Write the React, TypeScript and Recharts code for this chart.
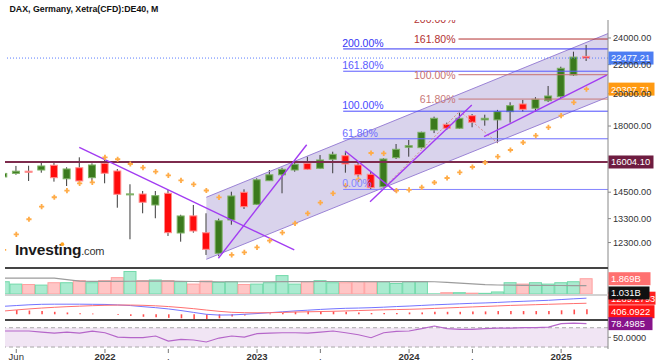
import React from "react";
import {
  ComposedChart,
  Bar,
  Line,
  Area,
  XAxis,
  YAxis,
  ReferenceLine,
  ReferenceDot,
  ReferenceArea,
} from "recharts";

// monthly candles, May 2021 .. Mar 2025
const months = [
  "2021-05", "2021-06", "2021-07", "2021-08", "2021-09", "2021-10", "2021-11", "2021-12",
  "2022-01", "2022-02", "2022-03", "2022-04", "2022-05", "2022-06", "2022-07", "2022-08", "2022-09", "2022-10", "2022-11", "2022-12",
  "2023-01", "2023-02", "2023-03", "2023-04", "2023-05", "2023-06", "2023-07", "2023-08", "2023-09", "2023-10", "2023-11", "2023-12",
  "2024-01", "2024-02", "2024-03", "2024-04", "2024-05", "2024-06", "2024-07", "2024-08", "2024-09", "2024-10", "2024-11", "2024-12",
  "2025-01", "2025-02", "2025-03",
];
const opens = [
  15240, 15420, 15530, 15590, 15835, 15150, 15707, 15204,
  15935, 15540, 14380, 14414, 13906, 14448, 12690, 13420, 12700, 11875, 13241, 14496,
  13937, 15055, 15349, 15590, 15935, 15677, 16147, 16337, 15848, 15375, 14760, 16231,
  16793, 16773, 17768, 18103, 17868, 18619, 18365, 18365, 18864, 19344, 19075, 19553,
  19812, 21266, 22600,
];
const highs = [
  15570, 15800, 15810, 15968, 15950, 15730, 16250, 15935,
  16200, 15640, 14880, 14557, 14557, 14606, 13470, 13906, 13534, 13300, 14522, 14637,
  15173, 15590, 15707, 16020, 16284, 16373, 16551, 16519, 15950, 15504, 16200, 16973,
  17196, 17670, 18560, 18200, 18801, 18720, 18680, 18975, 19452, 19604, 19780, 20516,
  21850, 22949, 23457,
];
const lows = [
  14820, 15350, 15041, 15454, 15008, 14796, 14880, 14957,
  14928, 13783, 12432, 13534, 13316, 12567, 12334, 12703, 11811, 11760, 13038, 13726,
  13906, 15041, 14448, 15504, 15590, 15640, 15425, 15454, 15254, 14606, 14720, 16161,
  16284, 16720, 17590, 17768, 17830, 17926, 18020, 17030, 18200, 18864, 18850, 19470,
  19720, 21200, 22263,
];
const closes = [
  15418, 15530, 15475, 15797, 15204, 15643, 15041, 15848,
  15425, 14400, 14420, 14030, 14335, 12703, 13416, 12773, 12031, 13210, 14321, 13829,
  15100, 15349, 15626, 15886, 15626, 16110, 16411, 15900, 15349, 14715, 16161, 16682,
  16880, 17635, 18461, 17868, 18461, 18221, 18461, 18864, 19238, 19010, 19644, 19857,
  21737, 22550, 22477.21,
];
// parabolic SAR
const sar = [
  12005, 12636, 13272, 13829, 14261, 14570, 14928, 14976,
  16250, 16147, 15900, 15708, 15504, 15324, 15074, 14879, 14580, 14252, 11811, 11914,
  12110, 12375, 12703, 13099, 13534, 14011, 14448, 14810, 15122, 16481, 16466, 14570,
  14606, 14734, 14966, 15189, 15466, 15744, 15977, 16284, 16643, 17057, 17441, 17926,
  18619, 19452, 20307.71,
];
// volume, billions
const volume = [
  1.5, 1.21, 1.16, 1.09, 1.38, 1.38, 1.63, 1.38,
  1.63, 2.0, 2.75, 1.63, 1.71, 1.63, 1.5, 1.21, 1.59, 1.41, 1.5, 1.16,
  1.21, 1.38, 2.25, 1.21, 1.5, 1.63, 1.38, 1.38, 1.5, 1.5, 1.5, 1.29,
  1.5, 1.5, 0.02, 0.16, 0.16, 0.1, 0.08, 0.25, 1.38, 1.21, 1.38, 1.21,
  1.38, 1.5, 1.869,
];
const volumeMa = [
  1.95, 1.95, 1.95, 1.95, 1.93, 1.75, 1.58, 1.55,
  1.55, 1.55, 1.56, 1.58, 1.58, 1.57, 1.55, 1.53, 1.52, 1.5, 1.5, 1.5,
  1.5, 1.5, 1.52, 1.52, 1.52, 1.53, 1.53, 1.53, 1.52, 1.52, 1.52, 1.52,
  1.52, 1.52, 1.5, 1.42, 1.33, 1.24, 1.15, 1.1, 1.08, 1.06, 1.05, 1.04,
  1.04, 1.03, 1.031,
];
const macd = [
  640, 700, 760, 800, 810, 810, 810, 800,
  790, 750, 700, 610, 530, 430, 300, 150, 0, -60, -50, 0,
  60, 130, 200, 270, 330, 390, 440, 480, 500, 530, 570, 620,
  660, 710, 760, 800, 840, 880, 910, 950, 1000, 1040, 1080, 1120,
  1180, 1240, 1289.28,
];
const signal = [
  260, 350, 430, 500, 560, 610, 650, 690,
  720, 740, 740, 720, 680, 620, 540, 450, 340, 240, 160, 130,
  120, 130, 150, 180, 200, 220, 240, 270, 300, 330, 360, 380,
  400, 430, 470, 510, 550, 590, 630, 670, 710, 740, 770, 800,
  830, 860, 883,
];
const hist = [
  300, 344, 300, 258, 200, 146, 86, 60,
  0, -60, -130, -200, -230, -285, -320, -400, -430, -320, -170, -90,
  0, 60, 100, 200, 250, 250, 230, 200, 150, 100, 100, 110,
  150, 150, 200, 200, 200, 230, 230, 260, 260, 260, 260, 260,
  320, 380, 406.09,
];
const rsi = [
  63.2, 63.2, 63.2, 61, 59, 61, 59, 63,
  59.6, 50.7, 49.3, 49.3, 52.8, 42.4, 46, 44.5, 40.4, 48.6, 52.8, 50.7,
  57.6, 59, 59.6, 59.6, 59, 61, 63.2, 59.6, 55.5, 49.3, 59.6, 62.5,
  63.2, 68, 73.5, 68, 66.6, 66.6, 68, 69.3, 69.3, 70, 70, 71.4,
  78.3, 79.7, 78.4985,
];

// drawings
const blueFibLabels = ["0.00%", "61.80%", "100.00%", "161.80%", "200.00%"];
const blueFibValues = [14630, 17265, 18894, 21530, 23158];
const blueFibColors = ["#8484ff", "#6c6cff", "#4a4aff", "#5a5aff", "#3434f4"];
const redFibLabels = ["61.80%", "100.00%", "161.80%", "200.00%"];
const redFibValues = [19658, 21286, 23920, 25548];
const redFibColors = ["#c87878", "#c87070", "#b23030", "#b23030"];
const trendLines = [
  [5.97, 16793, 22.94, 12005],
  [16.95, 11683, 23.92, 16934],
  [26.95, 16589, 30.95, 14525],
  [28.92, 14057, 36.95, 19282],
  [37.92, 17383, 47.6, 21266],
];
const fibConnectors = [
  [30, 14703, 36, 18892],
  [36, 18892, 39, 17024],
];
const channelX = [16, 47.76];
const channelLower = [11645, 19813];
const channelUpper = [14261, 24373];

const xTickMonths = [1, 8, 13, 20, 25, 32, 37, 44];
const xTickLabels = ["Jun", "2022", ".", "2023", ".", "2024", ".", "2025"];
const priceTicks = [11400, 12300, 13300, 14500, 18000, 20000, 22000, 24000];

const X_DOMAIN: [number, number] = [0.11, 47.7];
const X_END = 47.7;
const FONT = "'Liberation Sans', Arial, sans-serif";

const rows: any[] = months.map((m, i) => ({
  i,
  month: m,
  o: opens[i],
  h: highs[i],
  l: lows[i],
  c: closes[i],
  range: [lows[i], highs[i]],
  up: closes[i] >= opens[i],
  sar: sar[i],
  vol: volume[i],
  vma: volumeMa[i],
  macd: macd[i],
  signal: signal[i],
  hist: hist[i],
  rsi: rsi[i],
  channel: i === channelX[0] ? [channelLower[0], channelUpper[0]] : undefined,
}));
const mainRows = [...rows, { i: channelX[1], channel: [channelLower[1], channelUpper[1]] }];

function Candle(props: any) {
  const { x, y, width, height, payload } = props;
  if (!payload || payload.o == null || !height) return <g />;
  const { o, h, l, c } = payload;
  const lnH = Math.log(h);
  const lnL = Math.log(l);
  const py = (v: number) => y + (height * (lnH - Math.log(v))) / (lnH - lnL);
  const cx = x + width / 2;
  const up = c >= o;
  const top = py(Math.max(o, c));
  const bodyH = Math.max(py(Math.min(o, c)) - top, 1);
  return (
    <g>
      <line x1={cx} x2={cx} y1={y} y2={y + height} stroke="#3a3a3a" strokeWidth={1} />
      <rect
        x={x + 0.5}
        y={top}
        width={width - 1}
        height={bodyH}
        fill={up ? "#3b7a1e" : "#ff0c0c"}
        stroke={up ? "#7fb266" : "#ff8f8f"}
        strokeWidth={1}
      />
    </g>
  );
}

function VolBar(props: any) {
  const { x, y, width, height, payload } = props;
  if (!payload || !height) return <g />;
  return (
    <rect
      x={x}
      y={y}
      width={width}
      height={height}
      fill={payload.up ? "#aaebd0" : "#ffc6c6"}
      stroke={payload.up ? "#72d9aa" : "#ffa0a0"}
      strokeWidth={1}
    />
  );
}

const sarPlus = (p: any) => {
  if (p.cy == null || p.payload?.sar == null) return <g key={`s${p.index}`} />;
  return (
    <path
      key={`s${p.index}`}
      d={`M${p.cx - 2.6},${p.cy}h5.2M${p.cx},${p.cy - 2.6}v5.2`}
      stroke="#ffac48"
      strokeWidth={1.8}
    />
  );
};

const tagShape = (text: string, bg: string, w: number, dy = 0) => (p: any) => (
  <g>
    <rect x={p.cx + 0.5} y={p.cy + dy - 6.5} width={w} height={13} fill={bg} />
    <text x={p.cx + 3} y={p.cy + dy + 3.4} fontSize={9.4} fill="#fff" fontFamily={FONT}>
      {text}
    </text>
  </g>
);

const XTick = (p: any) => {
  const idx = xTickMonths.indexOf(p.payload.value);
  const label = xTickLabels[idx] ?? "";
  const bold = /^\d{4}$/.test(label);
  return (
    <text
      x={p.x}
      y={p.y + 5}
      textAnchor="middle"
      fontSize={9.5}
      fontWeight={bold ? "bold" : "normal"}
      fill="#333"
      fontFamily={FONT}
    >
      {label}
    </text>
  );
};

const hLine = (top: number, h: number, color: string) => (
  <div style={{ position: "absolute", left: 5, top, width: 603, height: h, background: color, zIndex: 6 }} />
);

export default function App() {
  return (
    <div
      style={{
        position: "absolute",
        left: 0,
        top: 0,
        width: 660,
        height: 363,
        background: "#fff",
        overflow: "hidden",
        fontFamily: FONT,
      }}
    >
      <style>{".recharts-surface{overflow:visible}"}</style>

      {/* price panel */}
      <div style={{ position: "absolute", left: 0, top: 20, width: 660, height: 248, overflow: "hidden", zIndex: 1 }}>
        <ComposedChart width={660} height={248} data={mainRows} margin={{ top: 0, right: 0, bottom: 0, left: 5 }}>
          <XAxis type="number" dataKey="i" domain={X_DOMAIN} allowDataOverflow hide />
          <YAxis
            orientation="right"
            width={52}
            scale="log"
            domain={[11318, 25454]}
            allowDataOverflow
            ticks={priceTicks}
            tickFormatter={(v: number) => v.toFixed(2)}
            tick={{ fontSize: 9.2, fill: "#333" }}
            tickSize={3}
            tickLine={{ stroke: "#888" }}
            axisLine={{ stroke: "#888" }}
          />
          <Line
            dataKey="sar"
            stroke="none"
            dot={sarPlus}
            activeDot={false}
            isAnimationActive={false}
            zIndex={50}
          />
          <Area
            dataKey="channel"
            type="linear"
            connectNulls
            stroke="none"
            fill="rgb(103,79,179)"
            fillOpacity={0.25}
            isAnimationActive={false}
            zIndex={100}
          />
          {[0, 1].map((k) => (
            <ReferenceLine
              key={`ch${k}`}
              segment={[
                { x: channelX[0], y: k ? channelUpper[0] : channelLower[0] },
                { x: channelX[1], y: k ? channelUpper[1] : channelLower[1] },
              ]}
              stroke="#9b83d6"
              strokeWidth={1}
              ifOverflow="hidden"
            />
          ))}
          {blueFibValues.map((v, k) => (
            <ReferenceLine
              key={`bf${k}`}
              segment={[{ x: 26.8, y: v }, { x: X_END, y: v }]}
              stroke={blueFibColors[k]}
              strokeWidth={1}
              ifOverflow="hidden"
            />
          ))}
          {redFibValues.map((v, k) => (
            <ReferenceLine
              key={`rf${k}`}
              segment={[{ x: 35.9, y: v }, { x: X_END, y: v }]}
              stroke={redFibColors[k]}
              strokeWidth={1}
              ifOverflow="hidden"
            />
          ))}
          <ReferenceLine y={16004.1} stroke="#7d2b4d" strokeWidth={2} ifOverflow="hidden" />
          <ReferenceLine y={22477.21} stroke="#5a7cff" strokeDasharray="1 2" ifOverflow="hidden" />
          {fibConnectors.map((s, k) => (
            <ReferenceLine
              key={`fc${k}`}
              segment={[{ x: s[0], y: s[1] }, { x: s[2], y: s[3] }]}
              stroke="#d58a8a"
              strokeDasharray="2 2"
              strokeWidth={1}
              ifOverflow="hidden"
            />
          ))}
          <Bar dataKey="range" barSize={8} shape={<Candle />} isAnimationActive={false} zIndex={300} />
          {trendLines.map((s, k) => (
            <ReferenceLine
              key={`tl${k}`}
              segment={[{ x: s[0], y: s[1] }, { x: s[2], y: s[3] }]}
              stroke="#a23cf2"
              strokeWidth={1.4}
              ifOverflow="hidden"
              zIndex={450}
            />
          ))}
          {blueFibValues.map((v, k) => (
            <ReferenceDot
              key={`bl${k}`}
              x={26.8}
              y={v}
              r={0}
              ifOverflow="visible"
              zIndex={900}
              shape={(p: any) => (
                <text x={p.cx - 1} y={p.cy - 2} fontSize={10.5} fill={blueFibColors[k]} fontFamily={FONT}>
                  {blueFibLabels[k]}
                </text>
              )}
            />
          ))}
          {redFibValues.map((v, k) => (
            <ReferenceDot
              key={`rl${k}`}
              x={35.9}
              y={v}
              r={0}
              ifOverflow="visible"
              zIndex={900}
              shape={(p: any) => (
                <text x={p.cx - 3} y={p.cy + 3.8} textAnchor="end" fontSize={10.5} fill={redFibColors[k]} fontFamily={FONT}>
                  {redFibLabels[k]}
                </text>
              )}
            />
          ))}
          <ReferenceDot x={X_END} y={22477.21} r={0} ifOverflow="visible" zIndex={950} shape={tagShape("22477.21", "#4d7ef3", 45)} />
          <ReferenceDot x={X_END} y={20307.71} r={0} ifOverflow="visible" zIndex={950} shape={tagShape("20307.71", "#ff9a12", 46)} />
          <ReferenceDot x={X_END} y={16004.1} r={0} ifOverflow="visible" zIndex={950} shape={tagShape("16004.10", "#6e1c40", 45)} />
        </ComposedChart>
      </div>

      {/* volume panel */}
      <div style={{ position: "absolute", left: 0, top: 268, width: 660, height: 26, zIndex: 3 }}>
        <ComposedChart width={660} height={26} data={rows} margin={{ top: 0, right: 0, bottom: 0, left: 5 }}>
          <XAxis type="number" dataKey="i" domain={X_DOMAIN} allowDataOverflow hide />
          <YAxis orientation="right" width={52} domain={[0, 3.18]} tick={false} tickLine={false} axisLine={{ stroke: "#888" }} />
          <Bar dataKey="vol" barSize={12} shape={<VolBar />} isAnimationActive={false} />
          <Line dataKey="vma" stroke="#9c9c9c" strokeWidth={1.2} dot={false} activeDot={false} isAnimationActive={false} />
          <ReferenceDot x={X_END} y={1.869} r={0} ifOverflow="visible" shape={tagShape("1.869B", "#ff7070", 42)} />
          <ReferenceDot x={X_END} y={1.031} r={0} ifOverflow="visible" shape={tagShape("1.031B", "#111", 41, 7.4)} />
        </ComposedChart>
      </div>

      {/* MACD panel */}
      <div style={{ position: "absolute", left: 0, top: 296, width: 660, height: 24, zIndex: 2 }}>
        <ComposedChart width={660} height={24} data={rows} margin={{ top: 0, right: 0, bottom: 0, left: 5 }}>
          <XAxis type="number" dataKey="i" domain={X_DOMAIN} allowDataOverflow hide />
          <YAxis orientation="right" width={52} domain={[-456, 1464]} tick={false} tickLine={false} axisLine={{ stroke: "#888" }} />
          <Bar dataKey="hist" barSize={1.6} fill="#ff4f4f" isAnimationActive={false} />
          <Line dataKey="macd" stroke="#7474ff" strokeWidth={1} dot={false} activeDot={false} isAnimationActive={false} />
          <Line dataKey="signal" stroke="#ff7070" strokeWidth={1} dot={false} activeDot={false} isAnimationActive={false} />
          <ReferenceDot x={X_END} y={1289.28} r={0} ifOverflow="visible" shape={tagShape("1289.2793", "#ff2020", 47)} />
          <ReferenceDot x={X_END} y={406.09} r={0} ifOverflow="visible" shape={tagShape("406.0922", "#ff1414", 46, 2.5)} />
        </ComposedChart>
      </div>

      {/* RSI panel */}
      <div style={{ position: "absolute", left: 0, top: 320, width: 660, height: 43, zIndex: 2 }}>
        <ComposedChart width={660} height={43} data={rows} margin={{ top: 0, right: 0, bottom: 0, left: 5 }}>
          <XAxis
            type="number"
            dataKey="i"
            domain={X_DOMAIN}
            allowDataOverflow
            height={14}
            ticks={xTickMonths}
            tick={<XTick />}
            tickSize={4}
            tickLine={{ stroke: "#777" }}
            axisLine={false}
          />
          <YAxis
            orientation="right"
            width={52}
            domain={[25.9, 86]}
            allowDataOverflow
            ticks={[50]}
            tickFormatter={(v: number) => v.toFixed(4)}
            tick={{ fontSize: 9.2, fill: "#333" }}
            tickSize={3}
            tickLine={{ stroke: "#888" }}
            axisLine={{ stroke: "#888" }}
          />
          <ReferenceArea y1={30} y2={70} fill="#f1e5f4" fillOpacity={1} stroke="none" />
          <ReferenceLine y={70} stroke="#a9a9a9" strokeDasharray="4 3" />
          <ReferenceLine y={30} stroke="#a9a9a9" strokeDasharray="4 3" />
          <Line dataKey="rsi" stroke="#b566c9" strokeWidth={1.2} dot={false} activeDot={false} isAnimationActive={false} />
          <ReferenceDot x={X_END} y={78.4985} r={0} ifOverflow="visible" shape={tagShape("78.4985", "#87138a", 44)} />
        </ComposedChart>
      </div>

      {hLine(267.3, 1.6, "#444")}
      {hLine(294, 2, "#d2d2d2")}
      {hLine(319.3, 1.6, "#444")}

      {/* title and watermark */}
      <svg width={660} height={363} style={{ position: "absolute", left: 0, top: 0, zIndex: 7, pointerEvents: "none" }}>
        <text x={9.5} y={12.2} fontSize={8.8} fontWeight="bold" fill="#111" fontFamily={FONT}>
          DAX, Germany, Xetra(CFD):DE40, M
        </text>
        <text x={15} y={254.5} fontSize={15.5} fontWeight="bold" fill="#1a1a1a" fontFamily={FONT} letterSpacing={-0.2}>
          Investing
          <tspan fontSize={11} fontWeight="normal" fill="#333">.com</tspan>
        </text>
        <circle cx={62.3} cy={244.2} r={1.9} fill="#ffa21f" />
      </svg>
    </div>
  );
}
